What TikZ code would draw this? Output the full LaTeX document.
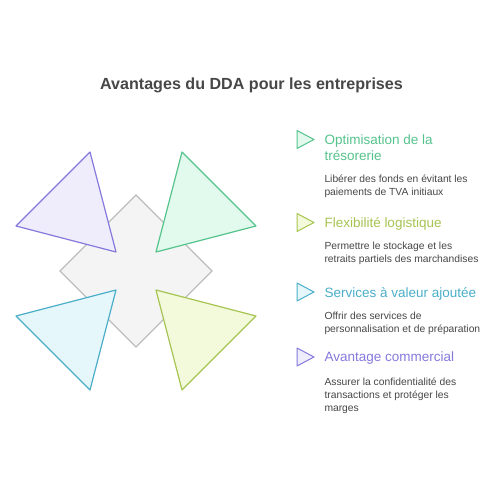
\documentclass[tikz,border=0pt]{standalone}
\usepackage{fontspec}
\setmainfont{Liberation Sans}
\definecolor{textgrau}{HTML}{474747}
\definecolor{rautegrau}{HTML}{BDBDBD}
\definecolor{rautefill}{HTML}{F4F4F4}
\definecolor{gruen}{HTML}{55C48C}
\definecolor{gruenfill}{HTML}{E2F9EE}
\definecolor{limette}{HTML}{A6C452}
\definecolor{limettefill}{HTML}{F3FADB}
\definecolor{cyan}{HTML}{4AAEC8}
\definecolor{cyanfill}{HTML}{E6F7FC}
\definecolor{lila}{HTML}{8579DD}
\definecolor{lilafill}{HTML}{EFEDFC}
\tikzset{
  dreieck/.style={draw=#1, fill=#1fill, line width=1.2pt, line join=round},
  titel/.style={anchor=base, text=textgrau, inner sep=0pt, font=\bfseries\fontsize{16.1}{19}\selectfont},
  kopf/.style={anchor=base west, text=#1, inner sep=0pt, align=left, font=\fontsize{13.5}{16}\selectfont},
  info/.style={anchor=base west, text=textgrau, inner sep=0pt, align=left, font=\fontsize{10.3}{13}\selectfont}
}
\begin{document}
\begin{tikzpicture}[x=1pt,y=-1pt] % Vorteile DDA
\useasboundingbox[fill=white] (0,0) rectangle (500,500);
\def\raute{(136,195) -- (212,271) -- (136,347) -- (60,271) -- cycle}
\def\icon#1{++(0,-9) -- ++(17,9) -- ++(-17,9) -- cycle}
    \draw[draw=rautegrau, fill=rautefill, line width=1.2pt] \raute;
    \draw[dreieck=lila] (90,152) -- (16,226) -- (116,252) -- cycle;
    \draw[dreieck=gruen] (182,152) -- (256,226) -- (156,252) -- cycle;
    \draw[dreieck=cyan] (116,290) -- (16,316) -- (90,390) -- cycle;
    \draw[dreieck=limette] (156,290) -- (256,316) -- (182,390) -- cycle;
    \node[titel] (titel) at (251.5,89.3) {Avantages du DDA pour les entreprises};
    % Punkt 1 (Anker = letzte Zeile)
    \draw[dreieck=gruen, line width=1pt] (297,139.5) \icon{};
    \node[kopf=gruen] (kopf1) at (324.3,160) {Optimisation de la\\trésorerie};
    \node[info] (info1) at (324.3,195) {Libérer des fonds en évitant les\\paiements de TVA initiaux};
    % Punkt 2
    \draw[dreieck=limette, line width=1pt] (297,222.5) \icon{};
    \node[kopf=limette] (kopf2) at (324.3,227) {Flexibilité logistique};
    \node[info] (info2) at (324.3,262) {Permettre le stockage et les\\retraits partiels des marchandises};
    % Punkt 3
    \draw[dreieck=cyan, line width=1pt] (297,292) \icon{};
    \node[kopf=cyan] (kopf3) at (324.3,297) {Services à valeur ajoutée};
    \node[info] (info3) at (324.3,332.5) {Offrir des services de\\personnalisation et de préparation};
    % Punkt 4
    \draw[dreieck=lila, line width=1pt] (297,357) \icon{};
    \node[kopf=lila] (kopf4) at (324.3,361.5) {Avantage commercial};
    \node[info] (info4) at (324.3,411) {Assurer la confidentialité des\\transactions et protéger les\\marges};
\end{tikzpicture}
\end{document}
